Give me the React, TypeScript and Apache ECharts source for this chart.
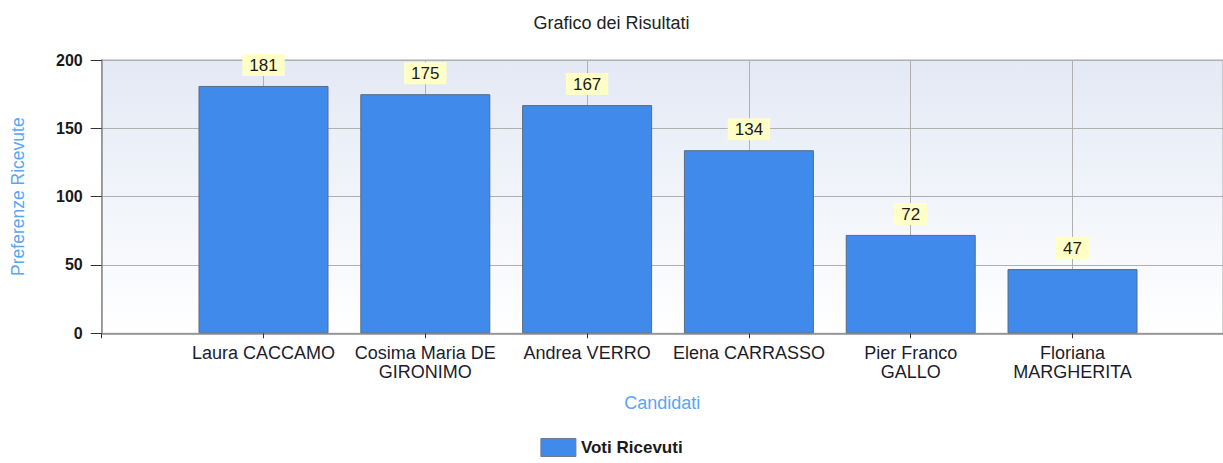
import React, { useEffect, useRef } from "react";
import * as echarts from "echarts";

const categories = [
  "Laura CACCAMO",
  "Cosima Maria DE\nGIRONIMO",
  "Andrea VERRO",
  "Elena CARRASSO",
  "Pier Franco\nGALLO",
  "Floriana\nMARGHERITA",
];
const votes = [181, 175, 167, 134, 72, 47];
const yTicks = [0, 50, 100, 150, 200];

const FONT = "'Liberation Sans', Arial, sans-serif";

export default function App() {
  const ref = useRef<HTMLDivElement>(null);
  useEffect(() => {
    if (!ref.current) return;
    const chart = echarts.init(ref.current, undefined, { renderer: "svg" });
    chart.setOption({
      animation: false,
      backgroundColor: "#ffffff",
      textStyle: { fontFamily: FONT },
      title: {
        text: "Grafico dei Risultati",
        left: "center",
        top: 9,
        textStyle: { fontSize: 18, fontWeight: "normal", color: "#222", fontFamily: FONT },
      },
      legend: {
        bottom: 1,
        left: "center",
        itemWidth: 35,
        itemHeight: 18,
        icon: "rect",
        textStyle: { fontSize: 17, fontWeight: "bold", color: "#1a1a1a", fontFamily: FONT },
        data: [{ name: "Voti Ricevuti", itemStyle: { borderColor: "#6b7a90", borderWidth: 1 } }],
      },
      grid: {
        left: 101.7,
        right: 0,
        top: 60,
        bottom: 129.7,
        outerBoundsMode: "none",
        containLabel: false,
        show: true,
        borderColor: "#a8a8a8",
        borderWidth: 1,
        backgroundColor: new echarts.graphic.LinearGradient(0, 0, 0, 1, [
          { offset: 0, color: "#e3e9f5" },
          { offset: 1, color: "#ffffff" },
        ]),
      },
      xAxis: {
        type: "value",
        min: 0,
        max: 6.93,
        interval: 1,
        name: "Candidati",
        nameLocation: "middle",
        nameGap: 61,
        nameTextStyle: { color: "#58a6f5", fontSize: 18, fontFamily: FONT },
        axisLine: { show: true, lineStyle: { color: "#8c8c8c", width: 1.5 } },
        axisTick: { show: true, length: 5, lineStyle: { color: "#333" } },
        splitLine: { show: true, lineStyle: { color: "#b0b0b0", width: 1 } },
        axisLabel: {
          fontSize: 18,
          color: "#1c1c2c",
          lineHeight: 19,
          margin: 10,
          fontFamily: FONT,
          formatter: (v: number) =>
            Number.isInteger(v) && v >= 1 && v <= categories.length ? categories[v - 1] : "",
        },
      },
      yAxis: {
        type: "value",
        min: yTicks[0],
        max: yTicks[yTicks.length - 1],
        interval: 50,
        name: "Preferenze Ricevute",
        nameLocation: "middle",
        nameGap: 75,
        nameTextStyle: { color: "#58a6f5", fontSize: 17.5, fontFamily: FONT },
        axisLine: { show: true, lineStyle: { color: "#8c8c8c", width: 1.5 } },
        axisTick: { show: true, length: 11, lineStyle: { color: "#333" } },
        splitLine: { show: true, lineStyle: { color: "#b0b0b0", width: 1 } },
        axisLabel: { fontSize: 16, fontWeight: "bold", color: "#1a1a1a", margin: 19, fontFamily: FONT },
      },
      series: [
        {
          name: "Voti Ricevuti",
          type: "bar",
          barWidth: 130,
          data: votes.map((v, i) => [i + 1, v]),
          itemStyle: { color: "#3f8aea", borderColor: "#5b6b84", borderWidth: 1 },
          label: {
            show: true,
            position: "top",
            distance: 10,
            fontSize: 17,
            color: "#1a1a1a",
            fontFamily: FONT,
            backgroundColor: "#ffffc6",
            padding: [3, 7, 2, 7],
            formatter: (p: any) => String(p.value[1]),
          },
        },
      ],
    });
    return () => chart.dispose();
  }, []);
  return (
    <div
      ref={ref}
      style={{ position: "absolute", left: 0, top: 0, width: 1223, height: 463 }}
    />
  );
}
